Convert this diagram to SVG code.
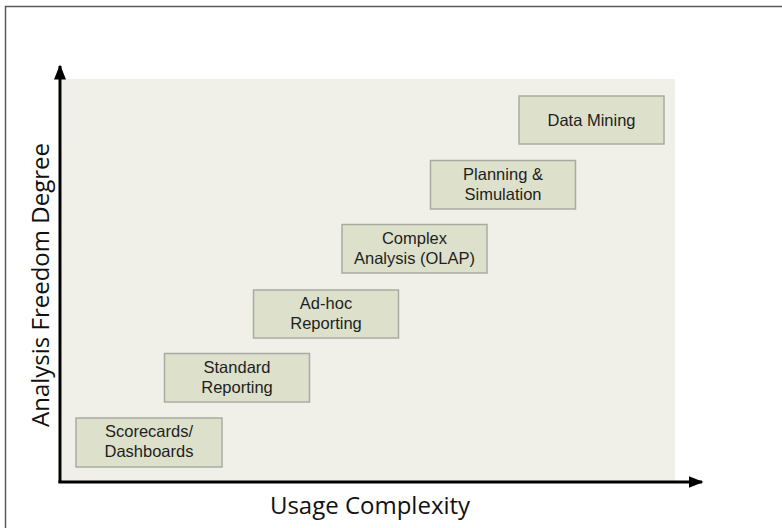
<svg xmlns="http://www.w3.org/2000/svg" width="782" height="528" viewBox="0 0 782 528">
<style>
.box{fill:#dde1cb;stroke:#a9aba3;stroke-width:1.5}
.lbl{font-family:"Liberation Sans",Arial,sans-serif;font-size:16.5px;fill:#1e1e1e;text-anchor:middle}
.ax{font-family:"Open Sans","DejaVu Sans",sans-serif;font-size:24px;fill:#111;text-anchor:middle}
.axis{stroke:#000;stroke-width:3;fill:none}
</style>
<defs>
<marker id="ah" markerWidth="5" markerHeight="4" refX="4.5" refY="2" orient="auto" markerUnits="strokeWidth">
<path d="M0,0 L5,2 L0,4 Z" fill="#000"/>
</marker>
</defs>
<rect x="0" y="0" width="782" height="528" fill="#fff"/>
<path d="M5.5,528 V6.5 H782" fill="none" stroke="#5a5a5a" stroke-width="1.5"/>
<rect x="62" y="79" width="613" height="402" fill="#f0f0e9"/>
<g id="connectors">
<line class="axis" x1="60" y1="483" x2="60" y2="66" marker-end="url(#ah)"/>
<line class="axis" x1="58.5" y1="482" x2="702" y2="482" marker-end="url(#ah)"/>
</g>
<g id="n1"><rect class="box" x="76" y="418" width="146" height="49"/><text class="lbl" x="149" y="437">Scorecards/</text><text class="lbl" x="149" y="457">Dashboards</text></g>
<g id="n2"><rect class="box" x="164.5" y="353.5" width="145" height="48.5"/><text class="lbl" x="237" y="372.5">Standard</text><text class="lbl" x="237" y="392.5">Reporting</text></g>
<g id="n3"><rect class="box" x="253.5" y="290" width="145" height="48"/><text class="lbl" x="326" y="308.5">Ad-hoc</text><text class="lbl" x="326" y="328.5">Reporting</text></g>
<g id="n4"><rect class="box" x="342" y="224.5" width="145" height="48.5"/><text class="lbl" x="414.5" y="243.5">Complex</text><text class="lbl" x="414.5" y="263.5">Analysis (OLAP)</text></g>
<g id="n5"><rect class="box" x="430.5" y="160.5" width="145" height="48.5"/><text class="lbl" x="503" y="179.5">Planning &amp;</text><text class="lbl" x="503" y="199.5">Simulation</text></g>
<g id="n6"><rect class="box" x="519" y="96" width="145" height="48"/><text class="lbl" x="591.5" y="126">Data Mining</text></g>
<text class="ax" x="370" y="514">Usage Complexity</text>
<text class="ax" transform="translate(49,285) rotate(-90)">Analysis Freedom Degree</text>
</svg>
